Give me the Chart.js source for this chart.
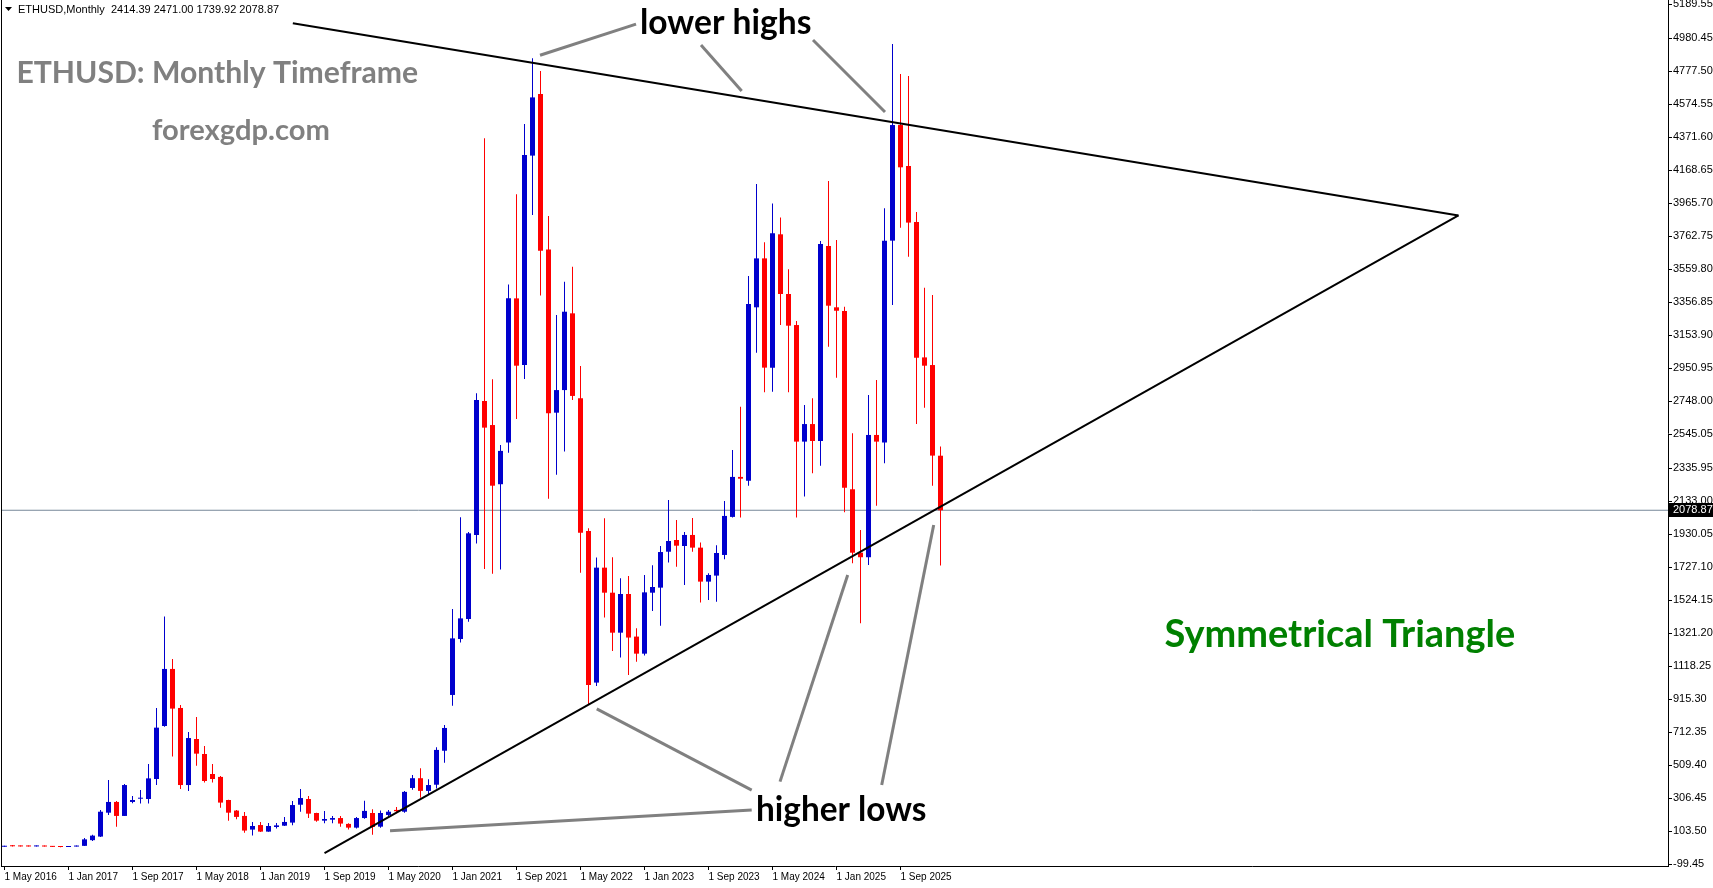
<!DOCTYPE html>
<html><head><meta charset="utf-8">
<script src="https://cdn.jsdelivr.net/npm/chart.js@4.4.1/dist/chart.umd.min.js"></script>
<style>html,body{margin:0;padding:0;background:#fff;overflow:hidden}canvas{display:block}</style>
</head><body>
<canvas id="c" width="1713" height="888" style="width:1713px;height:888px"></canvas>
<script>
const symbol = 'ETHUSD,Monthly';
// Monthly candles, May 2016 .. Feb 2026 (index 0 = May 2016)
const openP  = [9.5,14,12.5,11.8,11.5,13,11,8.7,8,10.7, 15,50,72,219,285,199,285,305,303,426, 752,1103,863,389,672,580,457,439,297,232, 199,115,143,102.5,131,139,158,268,303,217, 170,176,186,150,127,186,217,133,205,236, 225,371,431,353,391,600,943,1287,1410,1927, 2751,2603,2239,2495,3382,2972,4260,4639,3683,2679, 2818,3290,2767,1952,1019,1726,1572,1326,1564,1302, 1197,1572,1603,1824,1896,1859,1927,1849,1640,1677, 1804,2038,2284,2261,3327,3628,2956,3776,3409,3218, 2501,2609,2505,3704,3327,3304,2208,1818,1790,2542, 2495,3737,4448,4196,3852,3019,2972,2414.39];
const highP  = [14.5,21,14,12.5,14,14.5,11.5,8.9,11.5,17, 63,84,236,420,291,396,322,359,519,863, 1425,1164,881,715,808,629,519,445,299,236, 223,162,162,156,156,193,291,365,322,219, 230,199,199,154,193,293,240,232,236,254, 353,451,493,425,622,758,1472,2036,1945,2798, 4366,2884,2480,3468,4022,4454,4858,4780,3889,3280, 3485,3577,2966,1968,1788,2030,1790,1660,1675,1353, 1681,1740,1859,2142,2019,1945,2031,1880,1691,1863, 2136,2450,2716,3520,4085,3727,3966,3880,3561,3243, 2726,2767,3735,4104,3741,3331,2552,1958,2788,2880, 3936,4946,4762,4750,3913,3448,3403,2471.00];
const lowP   = [9,11,11,10.5,11,10.5,8.5,6,8,10.5, 14,45,70,205,133,199,277,275,275,389, 748,564,365,353,508,404,404,250,170,178, 96,78,100,101,121,137,141,225,186,164, 154,154,133,115,121,182,84,127,199,219, 219,360,311,334,367,526,877,1265,1394,1874, 1718,1689,1714,2433,2640,2886,3895,3399,2150,2298, 2440,2757,1695,881,998,1419,1214,1173,1066,1148, 1185,1460,1369,1757,1732,1619,1824,1511,1527,1517, 1777,2034,2034,2230,3048,2804,2808,3218,2804,2034, 2163,2306,2353,3085,2894,2066,1753,1384,1742,2107, 2368,3341,3817,3638,2609,2710,2230,1739.92];
const closeP = [14,12.5,11.5,11.3,13,11,8.7,8,10.7,16, 55,78,225,285,199,389,297,307,430,742, 1103,859,389,678,582,414,426,281,219,193, 109,137,102.5,137,141,162,266,309,213,170, 180,186,152,127,186,230,131,217,225,228, 347,431,353,389,605,740,1291,1414,1937,2757, 2587,2230,2444,3382,2968,4264,4618,3675,2675,2818, 3300,2782,1941,1004,1726,1572,1326,1564,1296,1197, 1574,1607,1822,1890,1861,1927,1849,1640,1681,1816, 2044,2284,2273,3347,3628,2956,3782,3409,3214,2501, 2609,2505,3716,3337,3306,2218,1818,1790,2542,2501, 3737,4448,4188,3848,3017,2968,2415,2078.87];

const xTickIdx    = [0,8,16,24,32,40,48,56,64,72,80,88,96,104,112];
const xTickLabels = ['1 May 2016','1 Jan 2017','1 Sep 2017','1 May 2018','1 Jan 2019','1 Sep 2019','1 May 2020','1 Jan 2021','1 Sep 2021','1 May 2022','1 Jan 2023','1 Sep 2023','1 May 2024','1 Jan 2025','1 Sep 2025'];
const yTickValues = [5189.55,4980.45,4777.50,4574.55,4371.60,4168.65,3965.70,3762.75,3559.80,3356.85,3153.90,2950.95,2748.00,2545.05,2335.95,2133.00,1930.05,1727.10,1524.15,1321.20,1118.25,915.30,712.35,509.40,306.45,103.50,-99.45];

// drawn objects (in bar index / price units)
const upperTrend = [{x:36.04,y:5074},{x:181.75,y:3892}];
const lowerTrend = [{x:40.0,y:-29},{x:181.75,y:3892}];
const pointerHighs = [
  [{x:66.94,y:4877},{x:78.94,y:5069}],
  [{x:87.06,y:4940},{x:92.15,y:4657}],
  [{x:101.06,y:4971},{x:110.06,y:4528}]
];
const pointerLows = [
  [{x:74.03,y:857},{x:93.4,y:358}],
  [{x:48.19,y:108},{x:93.4,y:235}],
  [{x:96.94,y:410},{x:105.4,y:1681}],
  [{x:109.65,y:389},{x:116.15,y:1988}]
];

const X_MIN = -0.3125, X_MAX = 207.9375, Y_MIN = -108.9, Y_MAX = 5217;
const BULL = '#0000CD', BEAR = '#FF0000';

const idx = openP.map((_, i) => i);
const col = idx.map(i => closeP[i] >= openP[i] ? BULL : BEAR);
const last = idx.length - 1;

function lineDs(data, color, width, order) {
  return {type:'line', data, borderColor:color, borderWidth:width, pointRadius:0, pointHoverRadius:0, fill:false, tension:0, order};
}

const datasets = [
  lineDs([{x:X_MIN,y:closeP[last]},{x:X_MAX,y:closeP[last]}], '#778899', 1, 5),
  {type:'bar', data: idx.map(i => ({x:i, y:[lowP[i], highP[i]]})), backgroundColor: col, grouped:false, maxBarThickness:1, minBarLength:1, inflateAmount:0, order:4},
  {type:'bar', data: idx.map(i => ({x:i, y:[openP[i], closeP[i]]})), backgroundColor: col, grouped:false, maxBarThickness:5, minBarLength:1, inflateAmount:0, order:3},
  lineDs(upperTrend, '#000000', 2, 2),
  lineDs(lowerTrend, '#000000', 2, 2),
  ...pointerHighs.map(p => lineDs(p, '#808080', 3, 1)),
  ...pointerLows.map(p => lineDs(p, '#808080', 3, 1))
];

function fitSize(ctx, text, family, weight, targetW) {
  ctx.font = `${weight} 100px ${family}`;
  return 100 * targetW / ctx.measureText(text).width;
}
function drawText(ctx, text, left, midY, targetW, color) {
  const fam = 'Lato, "Open Sans", sans-serif';
  const s = fitSize(ctx, text, fam, 'bold', targetW);
  ctx.font = `bold ${s}px ${fam}`;
  ctx.fillStyle = color; ctx.textAlign = 'left'; ctx.textBaseline = 'middle';
  ctx.fillText(text, left, midY);
}

const overlay = {
  id: 'overlay',
  afterDraw(chart) {
    const ctx = chart.ctx, a = chart.chartArea, ys = chart.scales.y;
    ctx.save();
    // left frame line
    ctx.fillStyle = '#000';
    ctx.fillRect(a.left - 1, 0, 1, a.bottom + 1);
    // header
    ctx.beginPath(); ctx.moveTo(5, 7); ctx.lineTo(12, 7); ctx.lineTo(8.5, 11); ctx.closePath(); ctx.fill();
    ctx.font = '11px "Liberation Sans", sans-serif';
    ctx.textBaseline = 'middle'; ctx.textAlign = 'left';
    const hdr = `${symbol}  ${openP[last].toFixed(2)} ${highP[last].toFixed(2)} ${lowP[last].toFixed(2)} ${closeP[last].toFixed(2)}`;
    ctx.fillText(hdr, 18, 10);
    // price label
    const py = ys.getPixelForValue(closeP[last]);
    ctx.fillStyle = '#000';
    ctx.fillRect(a.right + 1, Math.round(py) - 7, 1713 - a.right - 1, 14);
    ctx.fillStyle = '#fff';
    ctx.fillText(closeP[last].toFixed(2), a.right + 5, Math.round(py));
    // annotations
    drawText(ctx, 'ETHUSD: Monthly Timeframe', 16.4, 73, 402, '#808080');
    drawText(ctx, 'forexgdp.com', 152, 131, 178, '#808080');
    drawText(ctx, 'lower highs', 640, 23, 171.5, '#000000');
    drawText(ctx, 'higher lows', 756, 810.6, 170.5, '#000000');
    drawText(ctx, 'Symmetrical Triangle', 1164.6, 634.7, 350.7, '#008000');
    ctx.restore();
  }
};

new Chart(document.getElementById('c'), {
  type: 'bar',
  data: { datasets },
  options: {
    responsive: false, animation: false, devicePixelRatio: 1,
    layout: { padding: { left: 2, top: 0, right: 0, bottom: 0 } },
    plugins: { legend: { display: false }, tooltip: { enabled: false } },
    events: [],
    scales: {
      x: {
        type: 'linear', position: 'bottom', min: X_MIN, max: X_MAX, offset: false,
        afterBuildTicks: s => { s.ticks = xTickIdx.map(v => ({ value: v })); },
        afterFit: s => { s.height = 22; s.paddingLeft = 0; s.paddingRight = 0; },
        ticks: { autoSkip: false, maxRotation: 0, minRotation: 0, align: 'start', padding: 1, color: '#000',
          font: { family: '"Liberation Sans", sans-serif', size: 10 },
          callback: v => { const k = xTickIdx.indexOf(v); return k >= 0 ? xTickLabels[k] : ''; } },
        grid: { drawOnChartArea: false, drawTicks: true, tickLength: 4, color: '#000', offset: false },
        border: { display: true, color: '#000', width: 1 }
      },
      y: {
        type: 'linear', position: 'right', min: Y_MIN, max: Y_MAX,
        afterBuildTicks: s => { s.ticks = yTickValues.map(v => ({ value: v })); },
        afterFit: s => { s.width = 45; s.paddingTop = 0; s.paddingBottom = 0; },
        ticks: { autoSkip: false, padding: 1, color: '#000',
          font: { family: '"Liberation Sans", sans-serif', size: 11 },
          callback: v => Number(v).toFixed(2) },
        grid: { drawOnChartArea: false, drawTicks: true, tickLength: 4, color: '#000' },
        border: { display: true, color: '#000', width: 1 }
      }
    }
  },
  plugins: [overlay]
});
</script>
</body></html>
